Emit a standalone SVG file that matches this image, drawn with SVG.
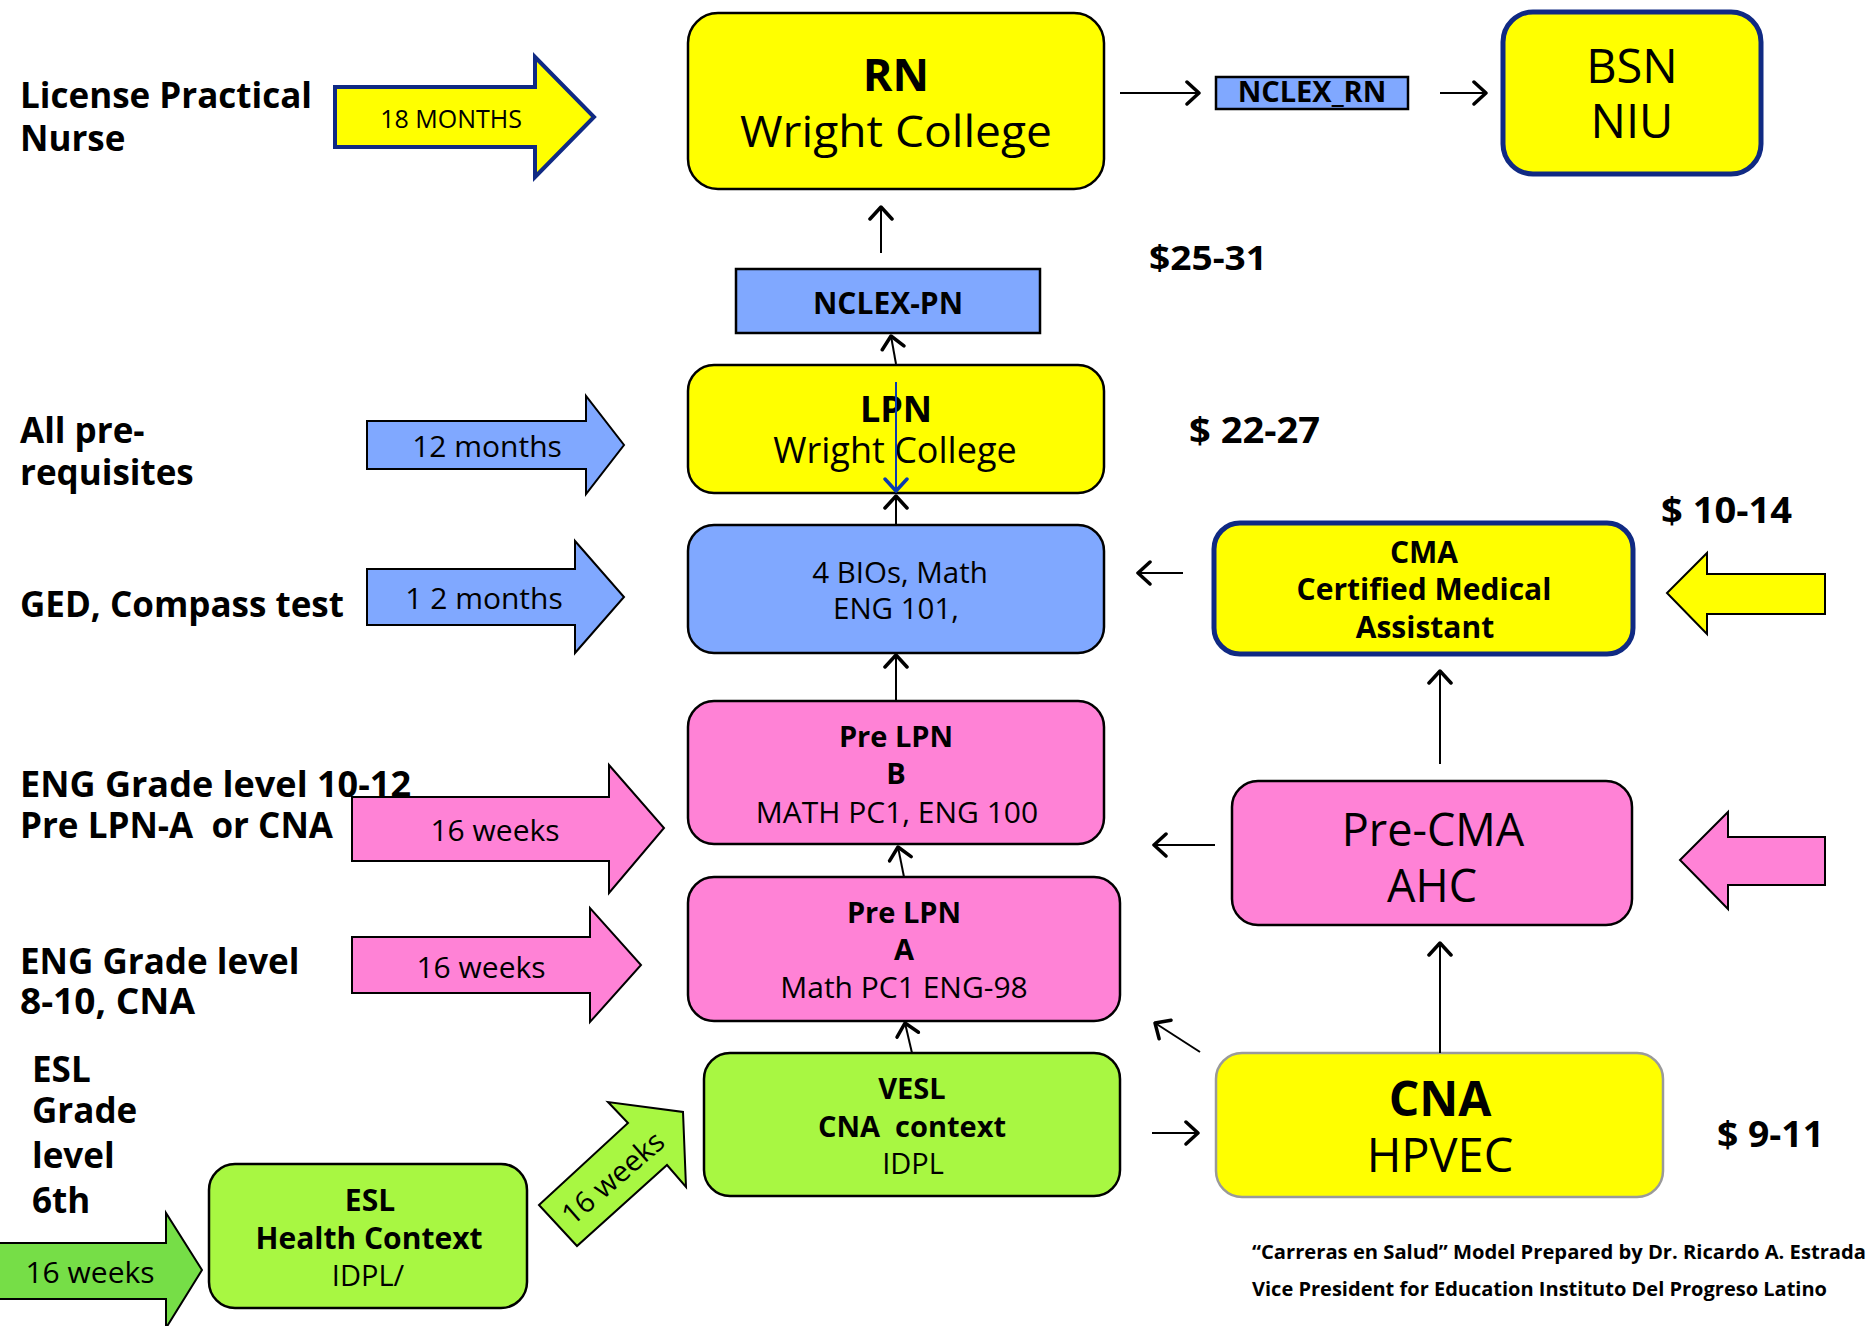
<svg xmlns="http://www.w3.org/2000/svg" width="1872" height="1326" viewBox="0 0 1872 1326">
<defs>
<style>
text{font-family:"Open Sans","Noto Sans","DejaVu Sans",sans-serif;fill:#000}
.b{font-weight:bold}
.m{text-anchor:middle}
.box{stroke:#000;stroke-width:2.5}
.y{fill:#FFFF00}
.bl{fill:#80A8FF}
.pk{fill:#FF82D6}
.lg{fill:#A8F742}
.dg{fill:#76DE47}
.navy{stroke:#102A83;stroke-width:5}
.gray{stroke:#9A9A9A;stroke-width:2.5}
.con{stroke:#000;stroke-width:2;fill:none;marker-end:url(#ah)}
.blue{stroke:#0A3AB0;stroke-width:2;fill:none;marker-end:url(#ahb)}
.blk{stroke:#000;stroke-width:2}
.lab{font-size:35px;font-weight:bold}
</style>
<marker id="ah" viewBox="0 0 16 26" refX="14" refY="13" markerWidth="16" markerHeight="26" markerUnits="userSpaceOnUse" orient="auto">
<path d="M2,2 L14,13 L2,24" fill="none" stroke="#000" stroke-width="3.5" stroke-linecap="round" stroke-linejoin="round"/>
</marker>
<marker id="ahb" viewBox="0 0 16 26" refX="14" refY="13" markerWidth="16" markerHeight="26" markerUnits="userSpaceOnUse" orient="auto">
<path d="M2,2 L14,13 L2,24" fill="none" stroke="#0A3AB0" stroke-width="3.5" stroke-linecap="round" stroke-linejoin="round"/>
</marker>
</defs>
<rect width="1872" height="1326" fill="#fff"/>

<g id="block-arrows">
<g id="arrow-18-months">
<polygon class="y" points="335,87 535,87 535,57 594,117 535,177 535,147 335,147" stroke="#102A83" stroke-width="4"/>
<text class="m" x="451" y="128" font-size="25">18 MONTHS</text>
</g>
<g id="arrow-12-months">
<polygon class="bl blk" points="367,421 586,421 586,396 624,445 586,494 586,469 367,469"/>
<text class="m" x="487" y="457" font-size="30">12 months</text>
</g>
<g id="arrow-1-2-months">
<polygon class="bl blk" points="367,569 575,569 575,541 624,597 575,653 575,625 367,625"/>
<text class="m" x="484" y="609" font-size="30">1 2 months</text>
</g>
<g id="arrow-16-weeks-1">
<polygon class="pk blk" points="352,797 609,797 609,765 664,828 609,893 609,861 352,861"/>
<text class="m" x="495" y="841" font-size="30">16 weeks</text>
</g>
<g id="arrow-16-weeks-2">
<polygon class="pk blk" points="352,937 590,937 590,908 641,965 590,1022 590,993 352,993"/>
<text class="m" x="481" y="978" font-size="30">16 weeks</text>
</g>
<g id="arrow-cma-in">
<polygon class="y blk" points="1825,574 1707,574 1707,553 1667,593 1707,634 1707,614 1825,614"/>
</g>
<g id="arrow-precma-in">
<polygon class="pk blk" points="1825,837 1728,837 1728,812 1680,860 1728,909 1728,885 1825,885"/>
</g>
<g id="arrow-16-weeks-esl">
<polygon class="dg blk" points="-3,1243 166,1243 166,1213 202,1270 166,1328 166,1299 -3,1299"/>
<text class="m" x="90" y="1283" font-size="30">16 weeks</text>
</g>
<g id="arrow-16-weeks-diag">
<polygon class="lg blk" points="539,1205 628,1123 608,1102 683,1112 686,1187 667,1165 577,1246"/>
<text class="m" transform="translate(613,1178) rotate(-41)" x="0" y="10" font-size="29">16 weeks</text>
</g>
</g>

<g id="labels">
<text class="lab" x="20" y="108">License Practical</text>
<text class="lab" x="20" y="151">Nurse</text>
<text class="lab" x="20" y="443">All pre-</text>
<text class="lab" x="20" y="485">requisites</text>
<text class="lab" x="20" y="617">GED, Compass test</text>
<text class="lab" x="20" y="797" textLength="391" lengthAdjust="spacingAndGlyphs">ENG Grade level 10-12</text>
<text class="lab" x="20" y="838" xml:space="preserve">Pre LPN-A  or CNA</text>
<text class="lab" x="20" y="974">ENG Grade level</text>
<text class="lab" x="20" y="1014" textLength="175" lengthAdjust="spacingAndGlyphs">8-10, CNA</text>
<text class="lab" x="32" y="1082">ESL</text>
<text class="lab" x="32" y="1123">Grade</text>
<text class="lab" x="32" y="1168">level</text>
<text class="lab" x="32" y="1213">6th</text>
<text class="b" x="1149" y="270" font-size="34" textLength="118" lengthAdjust="spacingAndGlyphs">$25-31</text>
<text class="b" x="1189" y="443" font-size="35" textLength="131" lengthAdjust="spacingAndGlyphs">$ 22-27</text>
<text class="b" x="1661" y="523" font-size="35" textLength="131" lengthAdjust="spacingAndGlyphs">$ 10-14</text>
<text class="b" x="1717" y="1147" font-size="35" textLength="107" lengthAdjust="spacingAndGlyphs">$ 9-11</text>
<text class="b" x="1252" y="1259" font-size="20" textLength="614" lengthAdjust="spacingAndGlyphs">“Carreras en Salud” Model Prepared by Dr. Ricardo A. Estrada</text>
<text class="b" x="1252" y="1296" font-size="20" textLength="575" lengthAdjust="spacingAndGlyphs">Vice President for Education Instituto Del Progreso Latino</text>
</g>

<g id="node-rn">
<rect class="box y" x="688" y="13" width="416" height="176" rx="30"/>
<text class="m b" x="896" y="91" font-size="45">RN</text>
<text class="m" x="896" y="147" font-size="44" textLength="312" lengthAdjust="spacingAndGlyphs">Wright College</text>
</g>
<g id="node-nclex-rn">
<rect class="bl" x="1216" y="77" width="192" height="32" stroke="#000" stroke-width="2.5"/>
<text class="m b" x="1312" y="102" font-size="29">NCLEX_RN</text>
</g>
<g id="node-bsn">
<rect class="y navy" x="1503" y="12" width="258" height="162" rx="30"/>
<text class="m" x="1632" y="83" font-size="47">BSN</text>
<text class="m" x="1632" y="138" font-size="47">NIU</text>
</g>
<g id="node-nclex-pn">
<rect class="bl" x="736" y="269" width="304" height="64" stroke="#000" stroke-width="2.5"/>
<text class="m b" x="888" y="314" font-size="30">NCLEX-PN</text>
</g>
<g id="node-lpn">
<rect class="box y" x="688" y="365" width="416" height="128" rx="26"/>
<text class="m b" x="896" y="422" font-size="36">LPN</text>
<text class="m" x="895" y="463" font-size="36">Wright College</text>
</g>
<g id="node-bios">
<rect class="box bl" x="688" y="525" width="416" height="128" rx="26"/>
<text class="m" x="900" y="583" font-size="29.5">4 BIOs, Math</text>
<text class="m" x="896" y="619" font-size="29.5">ENG 101,</text>
</g>
<g id="node-cma">
<rect class="y navy" x="1214" y="523" width="419" height="131" rx="26"/>
<text class="m b" x="1424" y="563" font-size="30">CMA</text>
<text class="m b" x="1424" y="600" font-size="30">Certified Medical</text>
<text class="m b" x="1425" y="638" font-size="30">Assistant</text>
</g>
<g id="node-pre-lpn-b">
<rect class="box pk" x="688" y="701" width="416" height="143" rx="26"/>
<text class="m b" x="896" y="747" font-size="29">Pre LPN</text>
<text class="m b" x="896" y="784" font-size="29">B</text>
<text class="m" x="897" y="823" font-size="30">MATH PC1, ENG 100</text>
</g>
<g id="node-pre-cma">
<rect class="box pk" x="1232" y="781" width="400" height="144" rx="26"/>
<text class="m" x="1433" y="846" font-size="45">Pre-CMA</text>
<text class="m" x="1432" y="902" font-size="45">AHC</text>
</g>
<g id="node-pre-lpn-a">
<rect class="box pk" x="688" y="877" width="432" height="144" rx="26"/>
<text class="m b" x="904" y="923" font-size="29">Pre LPN</text>
<text class="m b" x="904" y="960" font-size="29">A</text>
<text class="m" x="904" y="998" font-size="30">Math PC1 ENG-98</text>
</g>
<g id="node-vesl">
<rect class="box lg" x="704" y="1053" width="416" height="143" rx="26"/>
<text class="m b" x="912" y="1099" font-size="29">VESL</text>
<text class="m b" x="912" y="1137" font-size="29" xml:space="preserve">CNA  context</text>
<text class="m" x="913" y="1174" font-size="29">IDPL</text>
</g>
<g id="node-cna">
<rect class="y gray" x="1216" y="1053" width="447" height="144" rx="26"/>
<text class="m b" x="1440" y="1116" font-size="48">CNA</text>
<text class="m" x="1440" y="1172" font-size="47">HPVEC</text>
</g>
<g id="node-esl">
<rect class="box lg" x="209" y="1164" width="318" height="144" rx="26"/>
<text class="m b" x="370" y="1211" font-size="30">ESL</text>
<text class="m b" x="369" y="1249" font-size="30">Health Context</text>
<text class="m" x="368" y="1286" font-size="29">IDPL/</text>
</g>

<g id="connectors">
<line class="con" x1="1120" y1="93" x2="1199" y2="93"/>
<line class="con" x1="1440" y1="93" x2="1486" y2="93"/>
<line class="con" x1="881" y1="253" x2="881" y2="207"/>
<line class="con" x1="896" y1="364" x2="891" y2="336"/>
<line class="blue" x1="896" y1="382" x2="896" y2="491"/>
<line class="con" x1="896" y1="524" x2="896" y2="496"/>
<line class="con" x1="896" y1="700" x2="896" y2="655"/>
<line class="con" x1="1183" y1="573" x2="1138" y2="573"/>
<line class="con" x1="1440" y1="764" x2="1440" y2="671"/>
<line class="con" x1="1215" y1="845" x2="1154" y2="845"/>
<line class="con" x1="904" y1="877" x2="898" y2="847"/>
<line class="con" x1="912" y1="1053" x2="905" y2="1023"/>
<line class="con" x1="1440" y1="1053" x2="1440" y2="943"/>
<line class="con" x1="1152" y1="1133" x2="1198" y2="1133"/>
<line class="con" x1="1200" y1="1052" x2="1155" y2="1023"/>
</g>
</svg>
